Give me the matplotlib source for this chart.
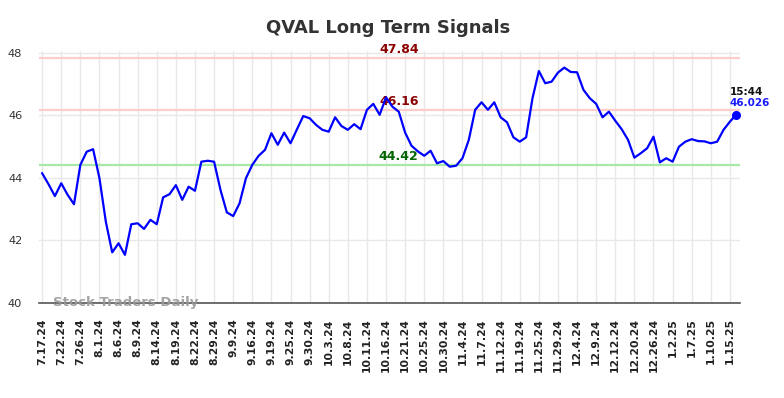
import matplotlib.pyplot as plt
import numpy as np

# closing values, one per trading day (110 points)
values = [
    44.15, 43.80, 43.42, 43.83, 43.46, 43.16, 44.42, 44.84, 44.92, 43.99,
    42.60, 41.62, 41.91, 41.54, 42.52, 42.55, 42.37, 42.66, 42.52, 43.38,
    43.48, 43.77, 43.30, 43.72, 43.59, 44.52, 44.55, 44.52, 43.62, 42.90,
    42.78, 43.19, 43.99, 44.42, 44.71, 44.90, 45.43, 45.06, 45.45, 45.11,
    45.55, 45.98, 45.91, 45.70, 45.54, 45.48, 45.94, 45.66, 45.54, 45.72,
    45.56, 46.18, 46.37, 46.02, 46.58, 46.28, 46.12, 45.45, 45.03, 44.85,
    44.71, 44.87, 44.47, 44.54, 44.36, 44.39, 44.63, 45.22, 46.18, 46.42,
    46.18, 46.42, 45.94, 45.78, 45.30, 45.16, 45.30, 46.55, 47.42, 47.03,
    47.08, 47.37, 47.53, 47.39, 47.38, 46.82, 46.55, 46.37, 45.94, 46.12,
    45.83, 45.56, 45.22, 44.65, 44.79, 44.95, 45.32, 44.50, 44.63, 44.52,
    45.00, 45.16, 45.24, 45.18, 45.17, 45.11, 45.16, 45.54, 45.80, 46.026,
]

tick_labels = [
    '7.17.24', '7.22.24', '7.26.24', '8.1.24', '8.6.24', '8.9.24', '8.14.24',
    '8.19.24', '8.22.24', '8.29.24', '9.9.24', '9.16.24', '9.19.24', '9.25.24',
    '9.30.24', '10.3.24', '10.8.24', '10.11.24', '10.16.24', '10.21.24',
    '10.25.24', '10.30.24', '11.4.24', '11.7.24', '11.12.24', '11.19.24',
    '11.25.24', '11.29.24', '12.4.24', '12.9.24', '12.12.24', '12.20.24',
    '12.26.24', '1.2.25', '1.7.25', '1.10.25', '1.15.25',
]

upper_level = 47.84
mid_level = 46.16
lower_level = 44.42
last_time = '15:44'

x = np.arange(len(values))
tick_pos = np.arange(0, len(tick_labels) * 3, 3)

fig = plt.figure(figsize=(7.84, 3.98), dpi=100)
ax = fig.add_axes([0.0497, 0.2387, 0.8943, 0.6323])

ax.set_xlim(-0.5, 109.6)
ax.set_ylim(40, 48.05)

ax.set_xticks(tick_pos)
ax.set_xticklabels(tick_labels, rotation=90, fontsize=7.8, fontweight='bold', color='#222222')
ax.set_yticks([40, 42, 44, 46, 48])
ax.tick_params(axis='x', length=0, pad=11)
ax.tick_params(axis='y', length=0, labelsize=8.2, labelcolor='#333333', pad=12)
ax.grid(True, color='#e8e8e8', linewidth=1)
ax.set_axisbelow(True)
for side in ['left', 'right', 'top']:
    ax.spines[side].set_visible(False)
ax.spines['bottom'].set_color('#555555')
ax.spines['bottom'].set_linewidth(1.2)

ax.axhline(upper_level, color='#ffcccc', linewidth=1.6)
ax.axhline(mid_level, color='#ffcccc', linewidth=1.6)
ax.axhline(lower_level, color='#a6e8a6', linewidth=1.6)

lx = 56
ax.text(lx, upper_level + 0.07, f'{upper_level:.2f}', color='#8b0000', fontsize=9,
        fontweight='bold', ha='center', va='bottom')
ax.text(lx, mid_level + 0.07, f'{mid_level:.2f}', color='#8b0000', fontsize=9,
        fontweight='bold', ha='center', va='bottom')
ax.text(lx, lower_level + 0.07, f'{lower_level:.2f}', color='#006400', fontsize=9,
        fontweight='bold', ha='center', va='bottom')

ax.plot(x, values, color='#0000ff', linewidth=1.6, zorder=3)
ax.plot(x[-1], values[-1], 'o', color='#0000ff', markersize=5.5, zorder=4)
ax.text(x[-1] - 1, values[-1] + 0.55, last_time, color='#111111', fontsize=7.5,
        fontweight='bold', ha='left', va='bottom')
ax.text(x[-1] - 1, values[-1] + 0.2, f'{values[-1]:.3f}', color='#1a1aff', fontsize=7.5,
        fontweight='bold', ha='left', va='bottom')

ax.text(1.7, 40.0, 'Stock Traders Daily', color='#999999', fontsize=9.5,
        fontweight='bold', ha='left', va='center', alpha=0.9, zorder=5)

fig.suptitle('QVAL Long Term Signals', x=0.495, y=0.952, fontsize=13,
             fontweight='bold', color='#333333')

fig.savefig('out.png', dpi=100)
